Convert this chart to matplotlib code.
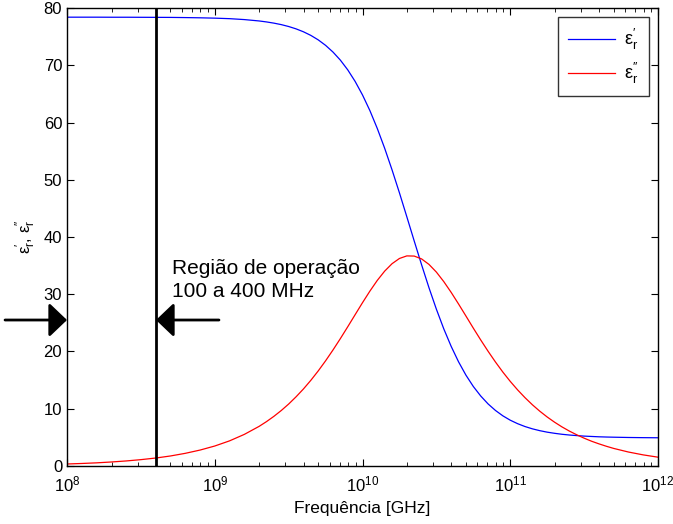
import numpy as np
from matplotlib import pyplot as plt
from matplotlib.ticker import LogLocator, NullFormatter

plt.rcParams['font.family'] = ['Liberation Sans', 'DejaVu Sans']
plt.rcParams['mathtext.fontset'] = 'custom'
plt.rcParams['mathtext.rm'] = 'Liberation Sans'
plt.rcParams['mathtext.it'] = 'Liberation Sans'

# log10 of frequency
log_freq = [8.0, 8.1, 8.2, 8.3, 8.4, 8.5, 8.6, 8.7, 8.8, 8.9,
            9.0, 9.1, 9.2, 9.3, 9.35, 9.4, 9.45, 9.5, 9.55, 9.6,
            9.65, 9.7, 9.75, 9.8, 9.85, 9.9, 9.95, 10.0, 10.05, 10.1,
            10.15, 10.2, 10.25, 10.3, 10.35, 10.4, 10.45, 10.5, 10.55, 10.6,
            10.65, 10.7, 10.75, 10.8, 10.85, 10.9, 10.95, 11.0, 11.05, 11.1,
            11.15, 11.2, 11.25, 11.3, 11.35, 11.4, 11.45, 11.5, 11.55, 11.6,
            11.65, 11.7, 11.8, 11.9, 12.0]

eps_real = [78.40, 78.40, 78.40, 78.39, 78.39, 78.38, 78.37, 78.36, 78.33, 78.29,
            78.23, 78.14, 77.98, 77.74, 77.57, 77.36, 77.10, 76.77, 76.36, 75.85,
            75.22, 74.44, 73.48, 72.31, 70.90, 69.20, 67.18, 64.81, 62.08, 58.96,
            55.50, 51.72, 47.71, 43.53, 39.30, 35.14, 31.13, 27.39, 23.96, 20.90,
            18.20, 15.87, 13.89, 12.23, 10.84, 9.70, 8.76, 8.00, 7.39, 6.89,
            6.49, 6.17, 5.91, 5.71, 5.54, 5.41, 5.31, 5.22, 5.16, 5.10,
            5.06, 5.03, 4.98, 4.95, 4.93]

eps_imag = [0.35, 0.44, 0.55, 0.70, 0.88, 1.11, 1.39, 1.75, 2.21, 2.78,
            3.49, 4.39, 5.52, 6.92, 7.75, 8.67, 9.69, 10.82, 12.08, 13.45,
            14.96, 16.60, 18.37, 20.26, 22.25, 24.32, 26.43, 28.53, 30.55, 32.42,
            34.04, 35.34, 36.25, 36.70, 36.67, 36.17, 35.21, 33.87, 32.21, 30.33,
            28.30, 26.20, 24.08, 22.02, 20.04, 18.16, 16.40, 14.78, 13.29, 11.93,
            10.69, 9.57, 8.56, 7.65, 6.83, 6.10, 5.45, 4.86, 4.33, 3.87,
            3.45, 3.07, 2.44, 1.94, 1.54]

op_freq = 4e8       # upper edge of operating region
arrow_level = 25.5
region_text = "Região de operação\n100 a 400 MHz"

freq = 10 ** np.array(log_freq)

fig = plt.figure(figsize=(6.73, 5.24), dpi=100)
ax = fig.add_axes([0.0996, 0.1107, 0.8781, 0.874])

ax.semilogx(freq, eps_real, color='blue', lw=0.9, label='ε$_\\mathrm{r}^{\\prime}$')
ax.semilogx(freq, eps_imag, color='red', lw=0.9, label='ε$_\\mathrm{r}^{\\prime\\prime}$')

ax.set_xlim(1e8, 1e12)
ax.set_ylim(0, 80)
ax.set_yticks(range(0, 81, 10))
ax.xaxis.set_major_locator(LogLocator(base=10, numticks=10))
ax.xaxis.set_minor_locator(LogLocator(base=10, subs=np.arange(2, 10), numticks=50))
ax.xaxis.set_minor_formatter(NullFormatter())
ax.tick_params(which='both', direction='in', top=True, right=True, labelsize=12)
ax.tick_params(which='major', length=5)
ax.tick_params(which='minor', length=3)
ax.tick_params(axis='x', which='major', pad=6)
for s in ax.spines.values():
    s.set_linewidth(1.0)

ax.set_xlabel('Frequência [GHz]', fontsize=12.5, labelpad=5)
ax.set_ylabel('ε$_\\mathrm{r}^{\\prime}$, ε$_\\mathrm{r}^{\\prime\\prime}$', fontsize=12)

# operating region marker
ax.axvline(op_freq, color='black', lw=2)
head = '-|>,head_length=1.1,head_width=1.05'
ax.annotate('', xy=(1e8, arrow_level), xytext=(-62, 0), textcoords='offset pixels',
            annotation_clip=False,
            arrowprops=dict(arrowstyle=head, color='black', lw=2, shrinkA=0, shrinkB=0))
ax.annotate('', xy=(op_freq, arrow_level), xytext=(63, 0), textcoords='offset pixels',
            arrowprops=dict(arrowstyle=head, color='black', lw=2, shrinkA=0, shrinkB=0))
ax.text(5.1e8, 36.2, region_text, fontsize=15, ha='left', va='top', linespacing=1.3)

leg = ax.legend(loc='upper right', fontsize=13, fancybox=False, edgecolor='black',
                borderaxespad=0.5, handlelength=2.6, handletextpad=0.5,
                labelspacing=0.5, borderpad=0.55)
leg.get_frame().set_linewidth(1.0)

fig.savefig('out.png', dpi=100)
